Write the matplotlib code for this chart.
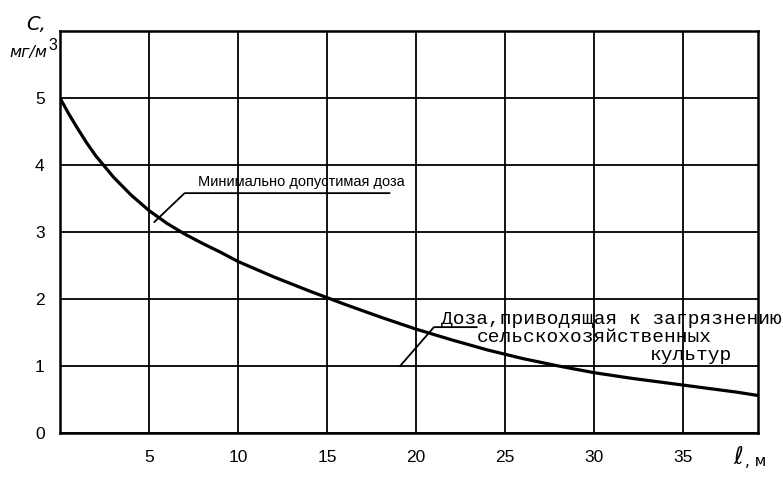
import matplotlib
matplotlib.use('Agg')
import matplotlib.pyplot as plt

# расстояние, м и концентрация, мг/м3
dist = [0, 0.5, 1, 1.5, 2, 3, 4, 5, 6, 7, 8, 9, 10, 12, 14, 16, 18, 20,
        22, 24, 26, 28, 30, 32, 34, 36, 38, 39.2]
conc = [5.0, 4.76, 4.54, 4.33, 4.14, 3.82, 3.55, 3.32, 3.13, 2.97, 2.83, 2.70, 2.56, 2.33, 2.12, 1.92, 1.73, 1.55,
        1.39, 1.24, 1.11, 1.0, 0.9, 0.82, 0.75, 0.68, 0.61, 0.56]

x_ticks = [5, 10, 15, 20, 25, 30, 35]
y_ticks = [0, 1, 2, 3, 4, 5]

narrow = ['Liberation Sans Narrow', 'Liberation Sans', 'DejaVu Sans']
mono = ['Liberation Mono', 'DejaVu Sans Mono']

fig = plt.figure(figsize=(7.83, 4.83), dpi=100)
ax = fig.add_axes([60 / 783, 50 / 483, 698 / 783, 402 / 483])

ax.plot(dist, conc, color='black', lw=2.3, solid_capstyle='butt', zorder=3)

ax.set_xlim(0, 39.2)
ax.set_ylim(0, 6)
ax.set_xticks(x_ticks)
ax.set_yticks(y_ticks)
ax.grid(True, color='black', lw=1.3)
ax.tick_params(length=0, labelsize=12.5)
ax.tick_params(axis='x', pad=12)
ax.tick_params(axis='y', pad=11)
for lab in ax.get_xticklabels() + ax.get_yticklabels():
    lab.set_family(narrow)
for s in ax.spines.values():
    s.set_linewidth(1.8)

# минимально допустимая доза
ax.plot([5.3, 7.0, 18.5], [3.15, 3.58, 3.58], color='black', lw=1.3)
ax.text(7.75, 3.75, 'Минимально допустимая доза', family=narrow, fontsize=10.5, va='center')

# доза, приводящая к загрязнению
ax.plot([19.1, 21.0, 23.4], [1.0, 1.58, 1.58], color='black', lw=1.3)
ax.text(21.4, 1.69, 'Доза,приводящая к загрязнению', family=mono, fontsize=14, va='center')
ax.text(23.4, 1.43, 'сельскохозяйственных', family=mono, fontsize=14, va='center')
ax.text(33.1, 1.16, 'культур', family=mono, fontsize=14, va='center')

# подписи осей
fig.text(36 / 783, 1 - 24 / 483, 'C,', fontsize=14, style='italic', ha='center', va='center')
fig.text(28 / 783, 1 - 53 / 483, 'мг/м', fontsize=11.5, style='italic', ha='center', va='center')
fig.text(53 / 783, 1 - 46 / 483, '3', fontsize=11.5, ha='center', va='center', family=narrow)
fig.text(738 / 783, 1 - 457 / 483, 'ℓ', fontsize=17, style='italic', ha='center', va='center')
fig.text(756 / 783, 1 - 461 / 483, ', м', fontsize=11, ha='center', va='center')

fig.savefig('out.png', dpi=100)
